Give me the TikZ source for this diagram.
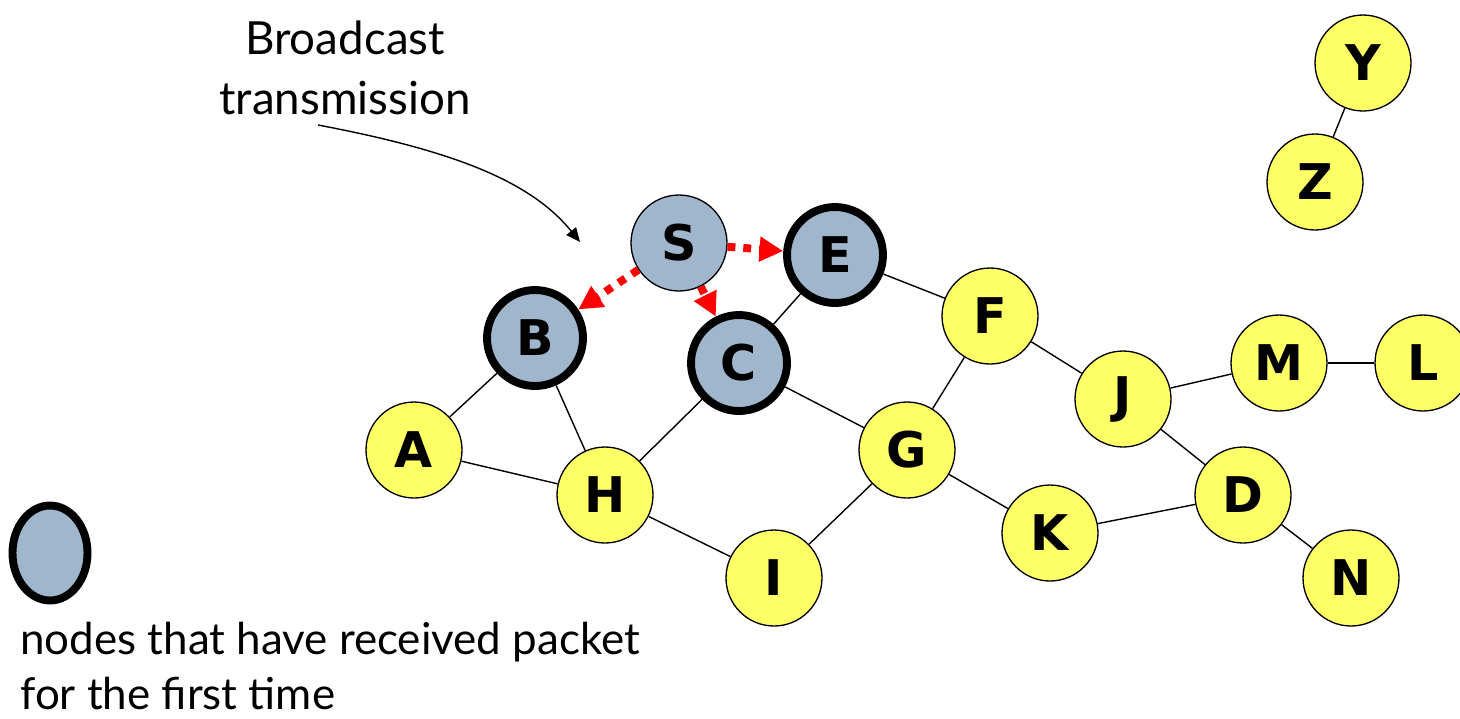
\documentclass[tikz,border=0pt]{standalone}
\usepackage{fontspec}
\setmainfont{Lato}
\setsansfont{DejaVu Sans}
\usetikzlibrary{arrows.meta,shapes.geometric}
\definecolor{nodeyellow}{HTML}{FFFF66}
\definecolor{nodegrey}{HTML}{A0B6CC}
\tikzset{
  netnode/.style = {circle, draw=black, align=center, inner sep=0pt,
    minimum size=1.92cm, font=\sffamily\bfseries\fontsize{28}{28}\selectfont},
  net_y/.style = {netnode, fill=nodeyellow, line width=0.75pt},% not reached yet
  net_s/.style = {netnode, fill=nodegrey, line width=0.75pt},% source
  net_r/.style = {netnode, fill=nodegrey, line width=4.5pt},% got the packet
  link/.style = {line width=0.8pt},
  bcast/.style = {red, line width=4.5pt, dash pattern=on 4.5pt off 4.5pt,
    -{Triangle[length=13.5pt,width=13.5pt]}}
}

\begin{document}
\begin{tikzpicture}[x=0.02cm, y=-0.02cm]
  \useasboundingbox (0,0) rectangle (1460,718);

  % nodes
  \node [net_s] (S) at (679,243) {S};
  \node [net_r] (E) at (835,255) {E};
  \node [net_r] (B) at (535,338) {B};
  \node [net_r] (C) at (739,363) {C};
  \node [net_y] (A) at (414,450) {A};
  \node [net_y] (H) at (605,495) {H};
  \node [net_y] (I) at (774,578) {I};
  \node [net_y] (G) at (907,450) {G};
  \node [net_y] (F) at (990,316) {F};
  \node [net_y] (K) at (1050,533) {K};
  \node [net_y] (J) at (1123,399) {J};
  \node [net_y] (M) at (1279,363) {M};
  \node [net_y] (L) at (1423,363) {L};
  \node [net_y] (D) at (1243,495) {D};
  \node [net_y] (N) at (1351,578) {N};
  \node [net_y] (Y) at (1363,63) {Y};
  \node [net_y] (Z) at (1315,182) {Z};

  % links
  \draw [link] (A) -- (B);
  \draw [link] (A) -- (H);
  \draw [link] (B) -- (H);
  \draw [link] (H) -- (C);
  \draw [link] (H) -- (I);
  \draw [link] (C) -- (E);
  \draw [link] (C) -- (G);
  \draw [link] (E) -- (F);
  \draw [link] (F) -- (G);
  \draw [link] (F) -- (J);
  \draw [link] (G) -- (I);
  \draw [link] (G) -- (K);
  \draw [link] (K) -- (D);
  \draw [link] (J) -- (D);
  \draw [link] (J) -- (M);
  \draw [link] (M) -- (L);
  \draw [link] (D) -- (N);
  \draw [link] (Y) -- (Z);

  % first hop of the broadcast
  \draw [bcast] (S) -- (E);
  \draw [bcast] (S) -- (B);
  \draw [bcast] (S) -- (C);

  % annotation
  \node [align=center, font=\fontsize{26}{34.5}\selectfont] (bc) at (345,68)
    {Broadcast\\transmission};
  \coordinate (bc_end) at (580,242);
  \draw [line width=0.8pt, -{Triangle[length=8pt,width=7pt]}]
    (318,125) .. controls (450,150) and (530,180) .. (bc_end);

  % legend
  \node [ellipse, draw=black, fill=nodegrey, line width=4.5pt, inner sep=0pt,
    minimum width=1.5cm, minimum height=1.9cm] (key) at (50,553) {};
  \node [align=left, anchor=north west, inner sep=0pt,
    font=\fontsize{25}{31}\selectfont] (key_txt) at (20,622)
    {nodes that have received packet\\for the first time};
\end{tikzpicture}
\end{document}
